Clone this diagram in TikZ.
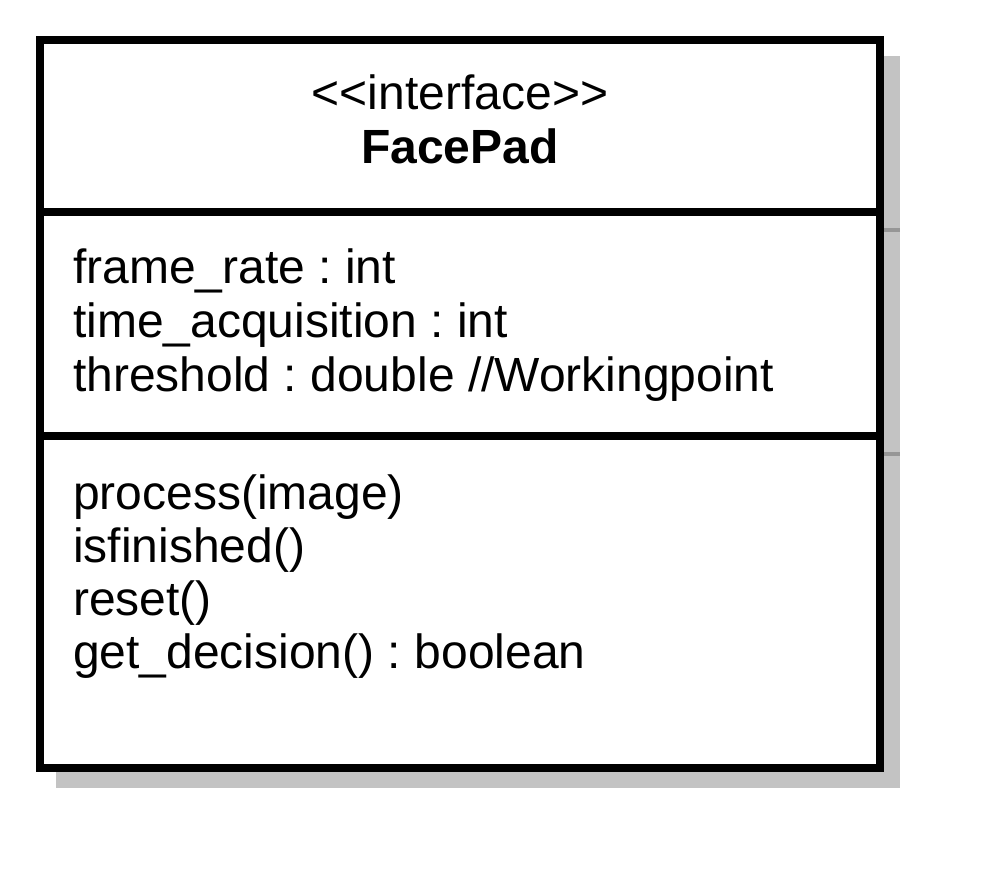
\documentclass[tikz,border=0pt]{standalone}
\usepackage{fontspec}
\setmainfont{Liberation Sans}
\usetikzlibrary{positioning}
\frenchspacing

\definecolor{shadowgray}{HTML}{C3C3C3}
\definecolor{shadowline}{HTML}{969696}

\begin{document}
\begin{tikzpicture}[x=1pt, y=-1pt,
    part/.style={draw, rectangle, line width=8pt, fill=white, minimum width=840pt, inner sep=0pt, outer sep=0pt, anchor=north},
    umltext/.style={inner sep=0pt, font=\fontsize{48}{54}\selectfont},
    member/.style={umltext, anchor=base west}]

    \useasboundingbox (0,0) rectangle (992,880);

    % shadow of the class box
    \fill [shadowgray] (56,56) rectangle (900,788);

    \node (head) [part, minimum height=172pt] at (460,40) {};
    \node (attrs) [part, minimum height=224pt, below=0pt of head] {};
    \node (ops) [part, minimum height=332pt, below=0pt of attrs] {};

    \draw [shadowline, line width=4pt] ([xshift=4pt, yshift=-18pt] head.south east) -- ++(16,0);
    \draw [shadowline, line width=4pt] ([xshift=4pt, yshift=-18pt] attrs.south east) -- ++(16,0);

    \node (stereo) [umltext, anchor=base] at (460,110) {<\kern0pt<interface>\kern0pt>};
    \node (name) [umltext, anchor=base, font=\fontsize{48}{54}\selectfont\bfseries] at (460,163) {FacePad};

    \node (frame) [member] at (73,283) {frame\_rate : int};
    \node (time) [member] at (73,337) {time\_acquisition : int};
    \node (thresh) [member] at (73,391) {threshold : double //Workingpoint};

    \node (process) [member] at (73,509) {process(image)};
    \node (finished) [member] at (73,562) {isfinished()};
    \node (reset) [member] at (73,615) {reset()};
    \node (decision) [member] at (73,668) {get\_decision() : boolean};
\end{tikzpicture}
\end{document}
